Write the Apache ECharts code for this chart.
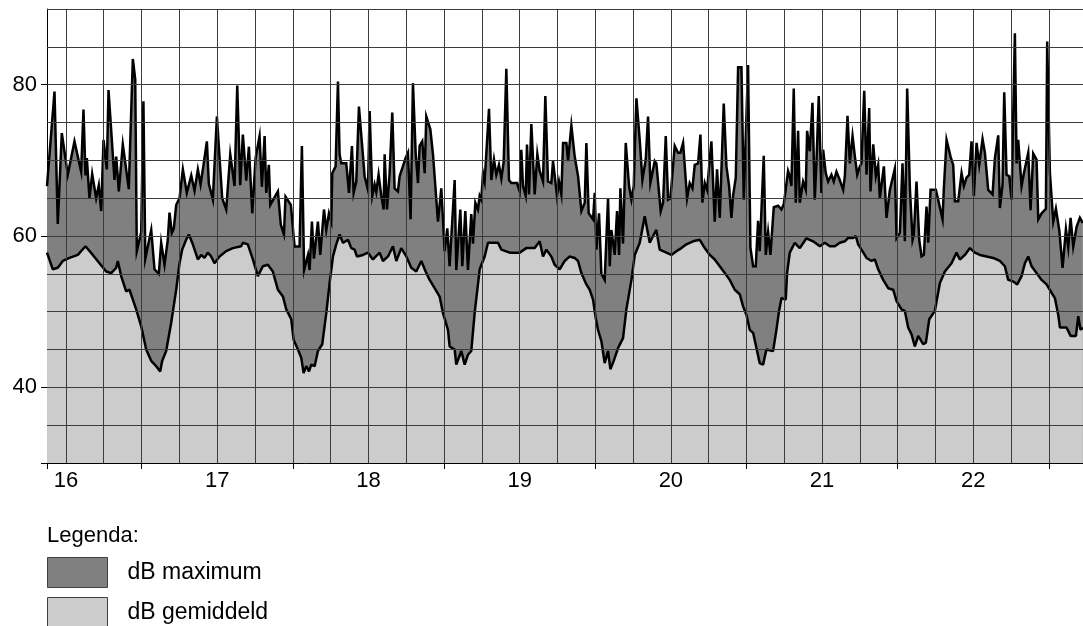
<!DOCTYPE html>
<html>
<head>
<meta charset="utf-8">
<script src="https://cdn.jsdelivr.net/npm/echarts@6/dist/echarts.min.js"></script>
<style>
html,body{margin:0;padding:0;background:#fff;}
#c{width:1083px;height:626px;}
</style>
</head>
<body>
<div id="c"></div>
<script>
// Time in hours since day 16, 00:00
const maxHours = [9.0,10.19,10.71,11.35,12.3,13.36,14.42,14.79,15.1,15.32,15.74,16.17,16.8,17.22,17.6,17.97,18.49,18.76,19.71,19.98,20.4,21.03,21.98,22.62,23.0,23.25,23.95,24.3,24.6,25.54,26.06,26.74,27.12,27.65,28.17,28.44,28.81,29.13,29.5,30.03,30.56,31.19,31.89,32.41,32.94,33.37,33.84,34.37,34.68,35.32,35.96,36.8,37.44,38.08,38.76,39.19,39.66,40.08,40.62,41.04,41.57,42.1,42.73,43.1,43.53,43.79,44.21,44.43,45.64,46.1,46.6,46.85,47.7,48.13,48.29,49.08,49.45,49.8,50.41,50.67,51.04,51.36,51.99,52.36,52.95,53.32,53.74,54.11,54.27,54.8,55.17,55.43,55.7,56.49,56.92,57.39,57.66,58.08,58.5,59.4,59.93,60.2,60.62,60.99,61.25,61.62,62.05,62.42,62.58,62.95,63.37,63.79,64.16,64.69,64.96,65.91,66.28,66.7,67.07,67.5,67.87,68.13,68.55,68.93,69.19,69.83,70.25,71.04,71.57,72.1,72.52,72.89,73.69,73.95,74.59,74.9,75.38,75.8,76.33,76.6,76.97,77.39,77.66,77.92,78.19,78.45,79.14,79.51,79.93,80.3,80.72,81.1,81.47,81.89,82.31,82.68,83.58,84.0,84.27,84.53,84.96,85.17,85.49,85.86,86.39,86.81,87.18,87.71,88.08,88.5,89.03,89.3,89.93,90.25,90.62,90.89,91.42,91.68,92.21,92.74,93.27,93.8,94.33,94.59,94.96,95.65,95.92,96.18,96.6,96.97,97.5,98.03,98.3,98.56,99.09,99.46,99.78,99.99,100.41,100.84,101.37,101.74,102.11,102.53,103.06,103.48,104.01,104.38,104.75,105.44,105.7,106.39,106.76,107.19,107.56,107.93,108.61,109.14,109.51,109.94,110.57,110.99,111.42,111.79,112.32,112.69,113.0,113.38,113.75,114.43,114.96,115.33,115.76,116.39,116.82,117.24,117.61,117.87,118.3,118.67,119.2,119.57,119.88,120.25,120.62,121.05,121.47,121.84,122.1,122.74,123.06,123.43,123.8,124.33,125.02,125.55,125.92,126.6,126.87,127.13,127.5,127.82,128.19,128.46,128.98,129.41,129.62,130.04,130.47,130.83,131.1,131.47,131.89,132.16,132.58,132.95,133.48,133.85,134.28,134.8,135.34,135.61,135.87,136.03,136.4,136.83,137.2,137.57,137.99,138.25,138.68,139.05,139.47,139.68,140.11,140.53,140.9,141.16,141.8,142.22,142.75,143.54,143.81,144.34,144.76,145.13,145.5,145.93,146.35,146.56,146.98,147.41,147.78,148.15,148.57,148.84,149.21,150.05,150.42,151.11,151.32,151.75,152.38,152.8,153.07,153.6,154.13,154.5,154.92,155.34,155.71,156.08,156.51,156.93,157.46,157.83,158.36,159.05,159.42,159.95,160.21,160.63,160.9,161.27,161.69,162.06,162.59,162.86,163.12,163.65,164.02,164.71,165.08,165.5,166.03,166.3,166.83,167.51,167.72,168.15,168.68,169.1,169.63,170.16,170.69,171.06,171.43,171.85,172.38,172.91,173.38];
const maxValues = [66.6,79.1,61.6,73.6,68.1,72.5,68.5,76.7,68.0,70.3,65.0,68.2,65,66.7,63.3,72.7,68.8,79.3,67.4,70.5,65.9,72.1,66.2,83.4,80.7,58.0,60.5,77.8,57.0,60.8,55.6,55.0,59.1,56.2,59.5,63.1,60.4,61.0,64.1,65.0,68.8,65.7,68.0,66,68.8,66.8,69.4,72.5,66.9,64.8,75.8,65,63.5,70.8,66.6,79.9,66.7,73.4,67.3,71.8,63.0,70.3,73.2,66.5,73.2,65.7,69.4,64.1,65.9,61.5,60.2,65.2,64.1,60,58.6,58.6,71.9,55.5,57.5,55.5,61.9,57,61.9,57.5,63.5,60.8,63.0,61.9,68.3,69.2,80.4,70.8,69.6,69.6,65.7,71.9,65.7,67.2,77.1,67.9,66.1,76.5,65.3,66.8,65.8,68.1,65.3,63.5,70.8,63.5,68.3,76.3,66.3,65.9,67.9,70.3,71.0,62.2,80.2,71.0,67.0,71.9,72.5,68.3,75.8,74.1,70.8,61.9,66.3,58,61,56,67.4,55.5,63.5,56,63.3,55.5,62.9,59,64.4,63.5,65.3,64.8,68.3,67.2,76.8,67.4,70.1,68.1,69.4,67.6,69.8,82.1,67.4,67.0,67.0,65.9,71.4,66.6,65.3,72.1,65.5,74.8,65.5,70.8,68.6,67.2,78.5,67.2,67.0,69.9,65.3,67.2,65.5,72.3,72.3,69.9,74.6,70.5,67.9,63.3,64.4,72.3,63.0,62.2,65.7,58.2,63,55,54.2,65.0,56,60.8,57.5,63.3,57.5,66.3,59,72.3,66.6,64.8,66.6,78.2,72.7,67.4,70.1,75.8,67.0,69.9,69.6,63.3,64.4,73.2,64.8,65.0,71.9,71.0,71.0,72.3,65.0,67.0,66.3,69.4,69.6,73.4,64.4,67.0,66.1,72.5,61.9,68.8,62.4,77.5,69.2,66.6,62.4,65.3,67.7,82.3,82.3,64.8,64.8,82.6,58.5,56,56,62,58,70.6,57.5,60.5,57.5,63.8,64.0,63.5,64.2,68.6,67.9,66.6,79.5,64.4,73.9,64.4,67.2,66.1,73.9,71.2,77.6,64.8,69.6,78.5,65.7,71.4,68.3,67.2,68.1,67.2,68.5,67.4,66.1,67.9,67.7,75.9,69.6,73.2,70.5,68.1,69.2,69.6,79.2,68.1,76.9,65.9,72.1,67.9,69.4,65.0,69.2,62.4,66.1,68.9,59.7,60.4,69.6,59.3,79.5,66.3,59.5,60.2,67.2,59.5,57.3,57.5,63.9,59.1,66.1,66.1,64.8,62.2,66.3,72.7,70.5,69.4,64.6,64.6,68.3,66.6,67.7,68.1,72.5,65.3,72.3,69.4,72.8,71.0,66.1,65.5,70.3,73.3,63.7,66.8,79.0,68.1,67.9,64.8,86.8,69.6,72.7,66.6,68.3,71.0,63.4,70.9,70.1,62.2,63.0,63.6,85.7,68.3,61.9,63.6,60.8,55.8,60.9,58.5,62.4,58.6,61.2,62.4,61.7];

const avgHours = [9.0,9.92,10.71,11.51,12.56,13.89,15.1,16.27,17.33,18.39,19.18,19.97,20.24,20.77,21.56,22.09,23.15,23.94,24.74,25.53,26.33,26.96,27.28,27.91,28.7,29.5,30.03,30.45,31.08,31.51,32.14,32.94,33.47,33.99,34.52,35.05,35.58,36.38,37.43,38.49,39.81,40.08,40.87,41.67,42.46,43.25,44.05,44.84,45.64,46.44,46.97,47.76,48.13,48.82,49.35,49.72,50.14,50.57,50.94,51.47,51.99,52.68,53.32,53.85,54.38,54.9,55.43,55.96,56.76,57.29,57.81,58.18,59.14,59.93,60.72,61.78,62.31,63.11,63.9,64.43,65.22,66.02,66.81,67.6,68.4,69.08,69.72,70.51,71.31,71.84,72.63,72.89,73.69,73.95,74.75,75.28,75.8,76.33,76.86,77.66,78.45,78.98,79.77,80.57,81.1,82.42,83.48,84.0,85.06,86.39,87.18,87.71,88.24,89.03,89.56,90.36,91.15,91.95,92.74,93.27,93.8,94.59,95.12,95.65,96.07,96.44,96.97,97.5,98.03,98.4,98.93,99.62,100.41,100.94,101.74,102.27,103.06,103.85,104.65,105.17,105.7,106.23,107.29,108.08,108.88,109.67,110.47,111.52,112.58,113.38,114.17,114.96,115.76,116.55,117.34,118.14,118.93,119.46,119.99,120.52,121.05,121.58,122.1,122.63,123.16,124.22,124.75,125.17,125.55,126.23,126.44,126.87,127.66,128.46,129.51,130.57,131.64,132.43,133.23,134.02,134.81,135.61,136.14,136.93,137.35,137.72,138.25,139.05,139.84,140.37,140.9,141.69,142.49,143.28,143.81,144.6,145.13,145.66,146.19,146.72,147.25,148.04,148.47,149.0,149.89,150.69,151.48,152.54,153.33,153.86,154.66,155.45,156.24,157.04,158.1,159.15,160.21,161.0,161.53,162.33,162.96,163.65,164.18,164.71,165.24,166.03,166.83,167.62,168.41,168.94,169.47,169.74,170.79,171.43,172.28,172.65,173.0,173.38];
const avgValues = [57.8,55.6,55.8,56.7,57.1,57.5,58.65,57.5,56.4,55.3,55.1,55.8,56.7,54.7,52.7,52.9,50.3,48.1,45.0,43.5,42.8,42.1,43.5,44.8,48.5,52.9,56.4,58.2,59.5,60.2,58.9,56.9,57.5,57.1,57.8,57.3,56.4,57.3,58.0,58.4,58.65,59.1,58.9,56.9,54.7,56.0,56.2,55.3,52.9,52.0,50.3,49.0,46.3,45.0,43.9,41.9,42.8,42.1,43.0,42.8,44.8,45.7,49.8,53.8,57.3,58.9,60.2,59.1,59.5,58.4,58.2,57.3,57.5,57.8,56.9,57.8,56.7,57.3,58.65,56.7,58.4,57.3,55.8,55.3,56.7,55.3,54.2,53.1,52.0,49.8,47.6,45.4,45.0,43.0,44.8,43.0,44.3,44.8,49.8,55.6,57.3,59.1,59.1,59.1,58.2,57.8,57.8,57.8,58.4,58.4,59.3,57.3,58.2,57.3,56.2,55.6,56.7,57.3,57.1,56.7,55.1,53.6,52.9,51.6,49.2,47.6,46.1,43.2,44.8,42.4,43.5,45.2,46.5,50.3,54.2,57.5,59.1,62.6,59.1,60.0,60.8,58.2,57.8,57.5,58.0,58.4,58.9,59.3,59.5,58.4,57.5,56.9,56.0,55.1,54.2,52.9,52.3,50.7,49.6,47.6,47.2,45.2,43.2,43.0,45.0,44.8,47.6,50.1,51.8,51.6,55.1,57.8,59.1,58.4,59.7,59.3,58.65,59.1,58.65,58.65,59.1,59.3,59.75,59.75,60.0,58.9,58.2,57.1,56.7,56.9,55.6,54.2,53.1,52.9,51.4,50.3,50.1,47.9,47.0,45.4,46.8,45.7,45.9,49.0,50.1,53.8,55.3,56.4,57.8,56.9,57.5,58.4,57.8,57.5,57.3,57.1,56.7,56.0,54.2,54.0,53.6,54.7,56.4,57.3,56.0,55.1,54.2,53.6,52.5,51.8,49.6,47.9,47.9,46.8,46.8,49.4,47.6,47.9];

const dayLabels = ['16','17','18','19','20','21','22'];
const dayLabelHours = [12,36,60,84,108,132,156];
const dayTickHours = [9,24,48,72,96,120,144,168];
const vGridHours = [12,18,24,30,36,42,48,54,60,66,72,78,84,90,96,102,108,114,120,126,132,138,144,150,156,162,168];
const hGridValues = [35,40,45,50,55,60,65,70,75,80,85,90];
const yLabelValues = [40,60,80];
const yTickValues = [30,40,60,80];

const FONT = 'Liberation Sans, Arial, Helvetica, sans-serif';
const pairs = (xs, ys) => xs.map((x, i) => [x, ys[i]]);

const gridLines = vGridHours.map(h => ({xAxis: h})).concat(hGridValues.map(v => ({yAxis: v})));

const chart = echarts.init(document.getElementById('c'), null, {renderer: 'canvas'});
chart.setOption({
  animation: false,
  textStyle: {fontFamily: FONT},
  title: {
    text: 'Legenda:', left: 47, top: 525, padding: 0,
    textStyle: {fontFamily: FONT, fontSize: 22, fontWeight: 'normal', color: '#000'}
  },
  legend: {
    orient: 'vertical', left: 47, top: 557, width: 400, height: 120, padding: 0,
    itemWidth: 60, itemHeight: 30, itemGap: 9, icon: 'rect',
    selectedMode: false,
    textStyle: {fontFamily: FONT, fontSize: 23, color: '#000', padding: [0, 0, 0, 15]},
    data: [
      {name: 'dB maximum', itemStyle: {color: '#808080', borderColor: '#404040', borderWidth: 1}},
      {name: 'dB gemiddeld', itemStyle: {color: '#cccccc', borderColor: '#404040', borderWidth: 1}}
    ]
  },
  grid: {left: 47, right: 0, top: 9, bottom: 163, containLabel: false},
  xAxis: [{
    type: 'value', min: 9, max: 173.4,
    axisLine: {show: true, lineStyle: {color: '#000', width: 1}},
    axisTick: {show: true, length: 6, customValues: dayTickHours, lineStyle: {color: '#000'}},
    axisLabel: {
      show: true, customValues: dayLabelHours, margin: 7,
      fontFamily: FONT, fontSize: 22, color: '#000',
      formatter: v => dayLabels[dayLabelHours.indexOf(v)] || ''
    },
    splitLine: {show: false}
  }, {
    type: 'value', min: 9, max: 173.4, position: 'bottom',
    axisLine: {show: false},
    axisTick: {show: true, inside: true, length: 6, customValues: dayTickHours, lineStyle: {color: '#000'}},
    axisLabel: {show: false},
    splitLine: {show: false}
  }],
  yAxis: {
    type: 'value', min: 30, max: 90, interval: 5,
    axisLine: {show: true, lineStyle: {color: '#000', width: 1}},
    axisTick: {show: true, length: 6, customValues: yTickValues, lineStyle: {color: '#000'}},
    axisLabel: {customValues: yLabelValues, margin: 10, fontFamily: FONT, fontSize: 22, color: '#000'},
    splitLine: {show: false}
  },
  series: [{
    name: 'dB maximum', type: 'line', xAxisIndex: 0,
    data: pairs(maxHours, maxValues),
    showSymbol: false, symbol: 'none',
    itemStyle: {color: '#808080'},
    lineStyle: {color: '#000', width: 2.5, join: 'miter'},
    areaStyle: {color: '#808080', opacity: 1, origin: 'start'},
    z: 2
  }, {
    name: 'dB gemiddeld', type: 'line', xAxisIndex: 0,
    data: pairs(avgHours, avgValues),
    showSymbol: false, symbol: 'none',
    itemStyle: {color: '#cccccc'},
    lineStyle: {color: '#000', width: 2.5},
    areaStyle: {color: '#cccccc', opacity: 1, origin: 'start'},
    z: 3,
    markLine: {
      silent: true, symbol: 'none', animation: false,
      label: {show: false},
      lineStyle: {color: '#3c3c3c', width: 1, type: 'solid'},
      emphasis: {disabled: true},
      data: gridLines
    }
  }]
});
</script>
</body>
</html>
